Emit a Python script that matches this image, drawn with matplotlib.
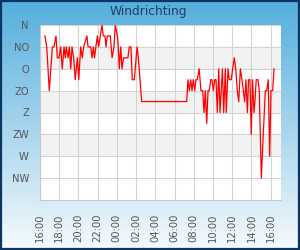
import matplotlib
matplotlib.use("Agg")
import matplotlib.pyplot as plt
import matplotlib.dates as mdates
import numpy as np
import pandas as pd
from matplotlib.patches import Rectangle

title = "Windrichting"
direction_labels = ["N", "NO", "O", "ZO", "Z", "ZW", "W", "NW"]
direction_ticks = [0, 45, 90, 135, 180, 225, 270, 315]

day1_times = ["16:31", "16:42", "16:58", "17:17", "17:27", "17:40", "17:48", "17:59",
              "18:09", "18:19", "18:30", "18:38", "18:44", "18:55", "19:03", "19:12",
              "19:20", "19:30", "19:40", "19:53", "20:02", "20:14", "20:24", "20:33",
              "20:53", "21:00", "21:17", "21:25", "21:33", "21:40", "21:49", "21:58",
              "22:06", "22:27", "22:35", "22:46", "22:52", "23:00", "23:19", "23:30",
              "23:42", "23:50"]
day1_dirs = [22.5, 45, 135, 45, 45, 22.5, 67.5, 67.5,
             45, 90, 45, 67.5, 45, 67.5, 45, 90,
             45, 67.5, 112.5, 67.5, 112.5, 45, 67.5, 45,
             22.5, 45, 45, 67.5, 45, 67.5, 45, 22.5,
             45, 0, 22.5, 22.5, 45, 22.5, 22.5, 67.5,
             45, 0]

day2_times = ["00:03", "00:09", "00:15", "00:24", "00:32", "00:42", "01:09", "01:17",
              "01:28", "01:36", "01:49", "02:06", "02:14", "02:35", "07:16", "07:24",
              "07:32", "07:41", "07:49", "07:57", "08:06", "08:14", "08:22", "08:34",
              "08:45", "08:56", "09:04", "09:12", "09:21", "09:29", "09:37", "09:46",
              "09:54", "10:02", "10:11", "10:19", "10:27", "10:36", "10:44", "10:59",
              "11:07", "11:17", "11:23", "11:34", "11:42", "11:54", "12:03", "12:13",
              "12:22", "12:32", "12:41", "12:51", "13:01", "13:18", "13:26", "13:35",
              "13:42", "13:51", "13:59", "14:07", "14:16", "14:22", "14:30", "14:41",
              "14:49", "15:02", "15:14", "15:27", "15:35", "15:45", "15:54", "16:02",
              "16:13", "16:21"]
day2_dirs = [22.5, 45, 90, 45, 90, 67.5, 67.5, 45,
             45, 112.5, 112.5, 45, 67.5, 157.5, 157.5, 112.5,
             135, 112.5, 135, 112.5, 135, 112.5, 112.5, 90,
             135, 135, 180, 135, 202.5, 135, 135, 112.5,
             112.5, 135, 112.5, 112.5, 180, 90, 180, 90,
             180, 90, 180, 90, 112.5, 112.5, 90, 67.5,
             90, 135, 157.5, 90, 112.5, 157.5, 112.5, 180,
             112.5, 112.5, 225, 112.5, 180, 157.5, 112.5, 112.5,
             135, 315, 225, 135, 135, 112.5, 270, 135,
             135, 90]

x_tick_labels = ["16:00", "18:00", "20:00", "22:00", "00:00", "02:00", "04:00",
                 "06:00", "08:00", "10:00", "12:00", "14:00", "16:00"]

times = pd.to_datetime(["2024-05-01 " + t for t in day1_times] +
                       ["2024-05-02 " + t for t in day2_times])
dirs = day1_dirs + day2_dirs

W, H = 300, 250
fig = plt.figure(figsize=(W / 100, H / 100), dpi=100)

# background gradient
bg = fig.add_axes([0, 0, 1, 1])
top = np.array([84, 174, 221]) / 255
bot = np.array([246, 250, 253]) / 255
t = np.linspace(0, 1, 256)[:, None]
grad = top[None, :] * (1 - t) + bot[None, :] * t
bg.imshow(grad[:, None, :].repeat(2, axis=1), aspect="auto", extent=[0, 1, 0, 1])
bg.set_axis_off()
fig.patches.append(Rectangle((0.002, 0.003), 0.995, 0.994, transform=fig.transFigure,
                             fill=False, edgecolor="#0b3562", linewidth=1.6))

ax = fig.add_axes([40 / W, 1 - 200 / H, 241 / W, 175 / H])
ax.set_facecolor("white")
x0 = pd.Timestamp("2024-05-01 16:00")
x1 = x0 + pd.Timedelta(hours=25.08)
ax.set_xlim(x0, x1)
ax.set_ylim(360, 0)

# alternate bands
for lo in [45, 135, 225]:
    ax.axhspan(lo, lo + 45, color="#f2f2f2", zorder=0, lw=0)

ax.set_yticks(direction_ticks)
ax.set_yticklabels(direction_labels)
xt = pd.date_range(x0, periods=len(x_tick_labels), freq="2h")
ax.set_xticks(xt)
ax.set_xticklabels(x_tick_labels, rotation=90)
ax.grid(True, color="#d3d3d3", lw=0.8, zorder=1)
ax.set_axisbelow(True)
ax.tick_params(axis="both", length=0, labelsize=7.2, colors="#555555")
ax.tick_params(axis="y", pad=8)
ax.tick_params(axis="x", pad=10)
for s in ax.spines.values():
    s.set_visible(False)
ax.spines["left"].set_visible(True)
ax.spines["bottom"].set_visible(True)
ax.spines["left"].set_color("#c8c8c8")
ax.spines["bottom"].set_color("#c8c8c8")

ax.plot(times, dirs, color="#ff0000", lw=0.9, zorder=3)

fig.text(148.5 / W, 1 - 12 / H, title, ha="center", va="center", fontsize=8.8,
         color="#1f3f60")

fig.savefig("out.png", dpi=100)
